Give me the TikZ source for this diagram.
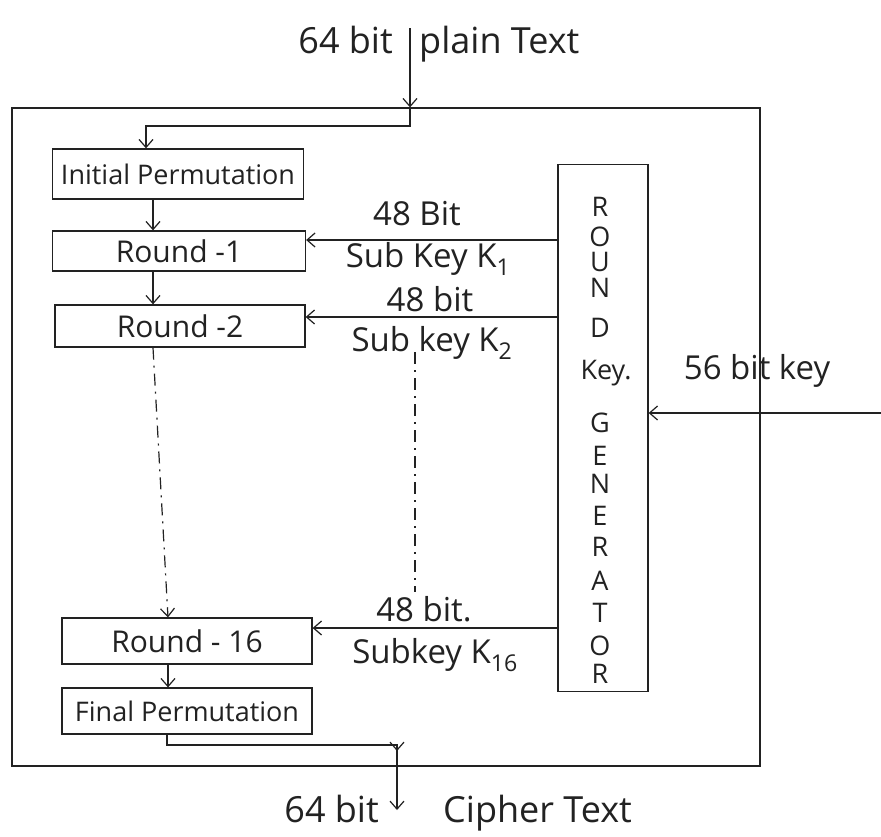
\documentclass[tikz,border=0pt]{standalone}
\usepackage{fontspec}
\setmainfont{Open Sans}
\usetikzlibrary{arrows.meta}
\definecolor{ink}{HTML}{222222}
\newcommand{\hand}{\fontsize{27}{29}\selectfont}
\newcommand{\handround}{\fontsize{30}{32}\selectfont}
\newcommand{\handlbl}{\fontsize{33}{35}\selectfont}
\newcommand{\handbig}{\fontsize{36}{38}\selectfont}
\begin{document}
\begin{tikzpicture}[x=1pt,y=-1pt,
  blk/.style={draw=ink, line width=1.3pt, inner sep=0pt, font=\hand, text=ink},
  rnd/.style={blk, font=\handround},
  arr/.style={draw=ink, line width=1.2pt, -{Straight Barb[length=8pt,width=14pt,line width=1.2pt]}},
  dashdot/.style={draw=ink, line width=1.2pt, dash pattern=on 12pt off 6pt on 2pt off 6pt},
  lbl/.style={inner sep=1pt, font=\handlbl, text=ink},
  biglbl/.style={inner sep=1pt, font=\handbig, text=ink},
  letter/.style={inner sep=0pt, font=\hand, text=ink}]
\useasboundingbox[fill=white] (0,0) rectangle (881,836);

% outer frame
\node[blk, minimum width=748pt, minimum height=658pt] (outer) at (386,437) {};

% blocks
\node[blk, minimum width=251pt, minimum height=50pt] (ip) at (178,174) {Initial Permutation};
\node[rnd, minimum width=253pt, minimum height=40pt] (r1) at (179,251) {Round -1};
\node[rnd, minimum width=250pt, minimum height=42pt] (r2) at (180,326) {Round -2};
\node[rnd, minimum width=250pt, minimum height=46pt] (r16) at (187,641) {Round - 16};
\node[blk, minimum width=250pt, minimum height=46pt] (fp) at (187,711) {Final Permutation};
\node[blk, minimum width=90pt, minimum height=527pt] (rkg) at (603,428) {};

% vertical letters of the key generator
\foreach \ch/\yy [count=\i] in {R/207,O/237,U/262,N/288,D/328,G/423,E/456,N/484,E/516,R/547,A/581,T/613,O/646,R/674}
  \node[letter] (g\i) at (600,\yy) {\ch};
\node[letter] (gkey) at (606,373) {Key.};

% helper coordinates
\coordinate (intop) at (410,28);
\coordinate (j1) at (410,126);
\coordinate (cl) at (153,0);
\coordinate (cm) at (168,0);
\coordinate (k1) at (0,240);
\coordinate (k2) at (0,317);
\coordinate (k16) at (0,628);
\coordinate (kin) at (881,413);
\coordinate (d1) at (415,352);
\coordinate (d2) at (415,592);
\coordinate (co) at (167,0);
\coordinate (j2) at (397,745);
\coordinate (out) at (397,810);

% input
\draw[arr] (intop) -- (intop |- outer.north);
\draw[arr] (intop |- outer.north) -- (j1) -| ([xshift=-32pt]ip.north);

% chain
\draw[arr] (cl |- ip.south) -- (cl |- r1.north);
\draw[arr] (cl |- r1.south) -- (cl |- r2.north);
\draw[dashdot, -{Straight Barb[length=8pt,width=14pt,line width=1.2pt]}] (cl |- r2.south) -- (cm |- r16.north);
\draw[arr] (cm |- r16.south) -- (cm |- fp.north);
\draw[dashdot] (d1) -- (d2);

% subkeys
\draw[arr] (rkg.west |- k1) -- (r1.east |- k1);
\draw[arr] (rkg.west |- k2) -- (r2.east |- k2);
\draw[arr] (rkg.west |- k16) -- (r16.east |- k16);
\draw[arr] (kin) -- (rkg.east |- kin);

% output
\draw[arr] (co |- fp.south) |- (j2) -- ++(0,6);
\draw[arr] (j2) -- (out);

% labels
\node[biglbl, anchor=east] (l64in) at (394,40) {64 bit};
\node[biglbl, anchor=west] (lplain) at (418,44) {plain Text};
\node[lbl] (l48a) at (417,214) {48 Bit};
\node[lbl] (lsk1) at (428,259) {Sub Key K\textsubscript{1}};
\node[lbl] (l48b) at (430,299) {48 bit};
\node[lbl] (lsk2) at (432,343) {Sub key K\textsubscript{2}};
\node[lbl] (l48c) at (424,609) {48 bit.};
\node[lbl] (lsk16) at (435,655) {Subkey K\textsubscript{16}};
\node[lbl] (l56) at (757,371) {56 bit key};
\node[biglbl, anchor=base east] (l64out) at (380,822) {64 bit};
\node[biglbl, anchor=base west] (lciph) at (442,822) {Cipher Text};
\end{tikzpicture}
\end{document}
